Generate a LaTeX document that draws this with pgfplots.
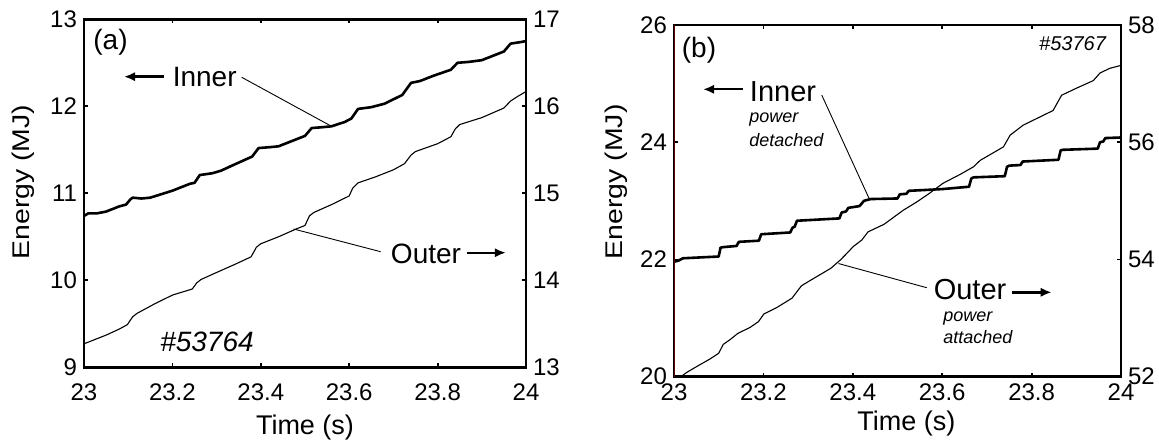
\documentclass[border=0pt]{standalone}
\usepackage{fontspec}
\setmainfont{Liberation Sans}
\usepackage{pgfplots}
\pgfplotsset{compat=1.18}
\usetikzlibrary{arrows.meta}

% ---------- measured stored energies ----------
% (a) discharge #53764
\pgfplotstableread{
t E
23.000 10.74
23.010 10.77
23.030 10.77
23.050 10.79
23.080 10.85
23.095 10.87
23.105 10.93
23.110 10.95
23.130 10.94
23.150 10.95
23.200 11.03
23.240 11.11
23.250 11.12
23.262 11.21
23.290 11.23
23.310 11.26
23.340 11.33
23.375 11.41
23.380 11.42
23.395 11.52
23.420 11.53
23.440 11.54
23.470 11.60
23.500 11.66
23.515 11.75
23.540 11.76
23.560 11.77
23.590 11.82
23.605 11.86
23.620 11.97
23.650 11.99
23.680 12.03
23.720 12.13
23.740 12.27
23.760 12.29
23.790 12.35
23.830 12.42
23.845 12.50
23.870 12.51
23.900 12.53
23.950 12.63
23.965 12.72
23.990 12.74
24.000 12.75
}\innerA
\pgfplotstableread{
t E
23.000 13.27
23.020 13.31
23.050 13.37
23.080 13.44
23.098 13.49
23.110 13.58
23.120 13.62
23.160 13.73
23.200 13.83
23.245 13.90
23.255 13.97
23.265 14.01
23.300 14.09
23.340 14.18
23.378 14.27
23.390 14.38
23.400 14.42
23.440 14.50
23.480 14.59
23.500 14.63
23.510 14.74
23.520 14.78
23.560 14.87
23.600 14.97
23.608 15.06
23.620 15.12
23.660 15.19
23.700 15.27
23.725 15.34
23.740 15.44
23.750 15.48
23.800 15.57
23.830 15.65
23.840 15.74
23.850 15.79
23.900 15.87
23.950 15.98
23.965 16.06
23.980 16.11
24.000 16.17
}\outerA
% (b) discharge #53767
\pgfplotstableread{
t E
23.000 21.96
23.010 21.98
23.020 22.02
23.100 22.05
23.104 22.20
23.110 22.21
23.140 22.23
23.145 22.30
23.190 22.32
23.195 22.43
23.260 22.46
23.265 22.54
23.270 22.56
23.275 22.66
23.370 22.70
23.375 22.80
23.385 22.82
23.390 22.88
23.415 22.91
23.425 23.00
23.440 23.03
23.500 23.04
23.505 23.11
23.520 23.12
23.525 23.17
23.600 23.20
23.660 23.24
23.665 23.38
23.670 23.40
23.740 23.42
23.745 23.58
23.750 23.60
23.775 23.61
23.780 23.67
23.860 23.70
23.865 23.86
23.870 23.87
23.948 23.89
23.953 24.00
23.960 24.01
23.965 24.07
24.000 24.08
}\innerB
\pgfplotstableread{
t E
23.015 52.00
23.030 52.08
23.050 52.17
23.080 52.30
23.100 52.40
23.110 52.55
23.125 52.63
23.143 52.74
23.170 52.84
23.189 52.94
23.201 53.07
23.230 53.18
23.264 53.34
23.285 53.55
23.300 53.62
23.351 53.85
23.372 53.99
23.390 54.13
23.401 54.22
23.420 54.33
23.434 54.47
23.470 54.60
23.513 54.84
23.543 54.98
23.570 55.12
23.602 55.30
23.640 55.45
23.670 55.58
23.685 55.69
23.737 55.92
23.752 56.12
23.781 56.29
23.848 56.54
23.867 56.80
23.900 56.92
23.938 57.05
23.953 57.18
23.975 57.26
24.000 57.31
}\outerB

\pgfplotsset{
  energy/.style={
    scale only axis,
    xmin=23, xmax=24,
    xtick={23,23.2,23.4,23.6,23.8,24},
    tick align=inside,
    major tick length=2pt,
    every tick/.style={black, line width=0.9pt},
    axis line style={line width=1.3pt},
    tick label style={font=\fontsize{12}{12}\selectfont},
    /pgf/number format/assume math mode=true,
    label style={font=\fontsize{13.5}{13.5}\selectfont},
  },
  thick curve/.style={black, line width=1.3pt, line join=round},
  thin curve/.style={black, line width=0.55pt, line join=round},
}

\newcommand{\elabel}{\scalebox{1}[0.85]{\fontsize{14.2}{14.2}\selectfont Energy (MJ)}}

\begin{document}
\begin{tikzpicture}
\useasboundingbox (0,0) rectangle (579.5pt,-221.5pt);

% ---------------- panel (a) ----------------
\begin{axis}[energy,
  at={(42pt,-183.65pt)}, anchor=south west,
  width=221pt, height=174pt,
  ymin=9, ymax=13, ytick={9,10,11,12,13}, ytick pos=left,
  xticklabel style={yshift=-4.5pt},
  xlabel={Time (s)},
  xlabel style={at={(axis description cs:0.5,-0.174)}, anchor=center},
  ylabel={\elabel},
  ylabel style={at={(axis description cs:-0.138,0.532)}, anchor=center},
]
\addplot[thick curve] table[x=t,y=E] {\innerA};
\coordinate (inA) at (axis cs:23.56,11.77);
\end{axis}
\begin{axis}[energy,
  at={(42pt,-183.65pt)}, anchor=south west,
  width=221pt, height=174pt,
  hide x axis, axis y line*=right,
  ymin=13, ymax=17, ytick={13,14,15,16,17},
]
\addplot[thin curve] table[x=t,y=E] {\outerA};
\coordinate (outA) at (axis cs:23.474,14.59);
\end{axis}

% ---------------- panel (b) ----------------
\begin{axis}[energy,
  at={(337pt,-188.35pt)}, anchor=south west,
  width=223.5pt, height=175.9pt,
  ymin=20, ymax=26, ytick={20,22,24,26}, ytick pos=left,
  xlabel={Time (s)},
  xlabel style={at={(axis description cs:0.52,-0.132)}, anchor=center},
  ylabel={\elabel},
  ylabel style={at={(axis description cs:-0.130,0.554)}, anchor=center},
]
\addplot[thick curve] table[x=t,y=E] {\innerB};
\coordinate (inB) at (axis cs:23.437,23.03);
\draw[color=red!40!black, line width=0.8pt] (rel axis cs:0,0) -- (rel axis cs:0,1);
\end{axis}
\begin{axis}[energy,
  at={(337pt,-188.35pt)}, anchor=south west,
  width=223.5pt, height=175.9pt,
  hide x axis, axis y line*=right,
  ymin=52, ymax=58, ytick={52,54,56,58},
]
\addplot[thin curve] table[x=t,y=E] {\outerB};
\coordinate (outB) at (axis cs:23.368,53.93);
\end{axis}

% ---------------- annotations ----------------
\begin{scope}[x=0.5pt, y=-0.5pt]
  \tikzset{big/.style={font=\fontsize{14}{14}\selectfont, inner sep=0pt},
           note/.style={font=\fontsize{9}{9}\selectfont\itshape, inner sep=0pt, anchor=base west},
           pointer/.style={-{Latex[length=5.5pt,width=4.6pt]}, line width=1.2pt},
           leader/.style={line width=0.45pt}}
  % (a)
  \node[big] at (110.5,42.5) {(a)};
  \node[big] at (204.7,77) {Inner};
  \draw[pointer] (164,76.7) -- (124,76.7);
  \draw[leader] (241.7,77.3) -- (inA);
  \node[big] at (426,253.5) {Outer};
  \draw[pointer] (466.7,252.7) -- (505.9,252.7);
  \draw[leader] (380.6,251.7) -- (outA);
  \node[big, font=\fontsize{14}{14}\selectfont\itshape] at (207,342) {\#53764};
  % (b)
  \node[big] at (699,50) {(b)};
  \node[big, font=\fontsize{14.5}{14.5}\selectfont] at (783,92) {Inner};
  \draw[pointer] (743,89.3) -- (703,89.3);
  \node[note] at (749,123) {power};
  \node[note] at (749,146.7) {detached};
  \draw[leader] (821.7,95) -- (inB);
  \node[big, font=\fontsize{14.5}{14.5}\selectfont] at (970,290) {Outer};
  \draw[pointer] (1011.7,292.3) -- (1051.7,292.3);
  \node[note] at (943,321) {power};
  \node[note] at (943,343) {attached};
  \draw[leader] (926.7,287.7) -- (outB);
  \node[inner sep=0pt, font=\fontsize{10}{10}\selectfont\itshape] at (1072.5,44) {\#53767};
\end{scope}
\end{tikzpicture}
\end{document}
